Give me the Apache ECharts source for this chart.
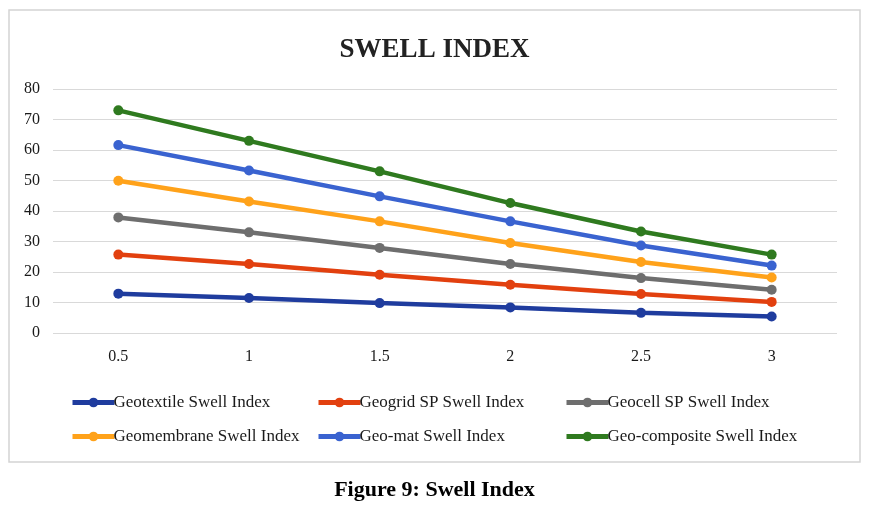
<!DOCTYPE html>
<html>
<head>
<meta charset="utf-8">
<script src="https://cdn.jsdelivr.net/npm/echarts@6/dist/echarts.min.js"></script>
<style>html,body{margin:0;padding:0;background:#fff;}#c{width:869px;height:507px;}</style>
</head>
<body>
<div id="c"></div>
<script>
var categories = ['0.5', '1', '1.5', '2', '2.5', '3'];
var geotextile = [12.9, 11.5, 9.8, 8.4, 6.6, 5.4];
var geogrid = [25.7, 22.6, 19.1, 15.8, 12.8, 10.2];
var geocell = [37.9, 33.0, 27.9, 22.6, 18.0, 14.2];
var geomembrane = [49.9, 43.1, 36.6, 29.5, 23.3, 18.2];
var geomat = [61.6, 53.3, 44.8, 36.6, 28.7, 22.1];
var geocomposite = [73.0, 63.0, 53.0, 42.6, 33.3, 25.7];
var seriesNames = ['Geotextile Swell Index', 'Geogrid SP Swell Index', 'Geocell SP Swell Index',
  'Geomembrane Swell Index', 'Geo-mat Swell Index', 'Geo-composite Swell Index'];
var seriesData = [geotextile, geogrid, geocell, geomembrane, geomat, geocomposite];
var colors = ['#1F3C9E', '#E2400F', '#6E6E6E', '#FFA21A', '#3A63D0', '#2F7A1F'];

var font = 'Liberation Serif, Times New Roman, serif';
var chart = echarts.init(document.getElementById('c'));

function legend(names, left) {
  return {
    data: names, left: left, top: 389, orient: 'vertical', itemGap: 17,
    itemWidth: 42, itemHeight: 12,
    lineStyle: {width: 5},
    textStyle: {fontFamily: font, fontSize: 17, color: '#1a1a1a', padding: [0, 0, 0, -6]}
  };
}

chart.setOption({
  animation: false,
  backgroundColor: '#fff',
  color: colors,
  title: [{
    text: 'SWELL INDEX', left: 'center', top: 32,
    textStyle: {fontFamily: font, fontSize: 27, fontWeight: 'bold', color: '#222'}
  }, {
    text: 'Figure 9: Swell Index', left: 'center', top: 474,
    textStyle: {fontFamily: font, fontSize: 22, fontWeight: 'bold', color: '#000'}
  }],
  graphic: [{
    type: 'rect', shape: {x: 9, y: 10, width: 851, height: 452},
    style: {fill: 'none', stroke: '#d4d4d4', lineWidth: 1.5}, silent: true, z: -1
  }],
  legend: [
    legend([seriesNames[0], seriesNames[3]], 65),
    legend([seriesNames[1], seriesNames[4]], 311),
    legend([seriesNames[2], seriesNames[5]], 559)
  ],
  grid: {left: 53, right: 32, top: 89, bottom: 174},
  xAxis: {
    type: 'category', data: categories, boundaryGap: true,
    axisLine: {show: false}, axisTick: {show: false},
    axisLabel: {fontFamily: font, fontSize: 16, color: '#1a1a1a', margin: 16}
  },
  yAxis: {
    type: 'value', min: 0, max: 80, interval: 10,
    axisLine: {show: false}, axisTick: {show: false},
    axisLabel: {fontFamily: font, fontSize: 16, color: '#1a1a1a', margin: 13},
    splitLine: {lineStyle: {color: '#d9d9d9', width: 1.2}}
  },
  series: seriesNames.map(function (n, i) {
    return {
      name: n, type: 'line', data: seriesData[i],
      symbol: 'circle', symbolSize: 10,
      lineStyle: {width: 4.5, color: colors[i]},
      itemStyle: {color: colors[i]}
    };
  })
});
</script>
</body>
</html>
